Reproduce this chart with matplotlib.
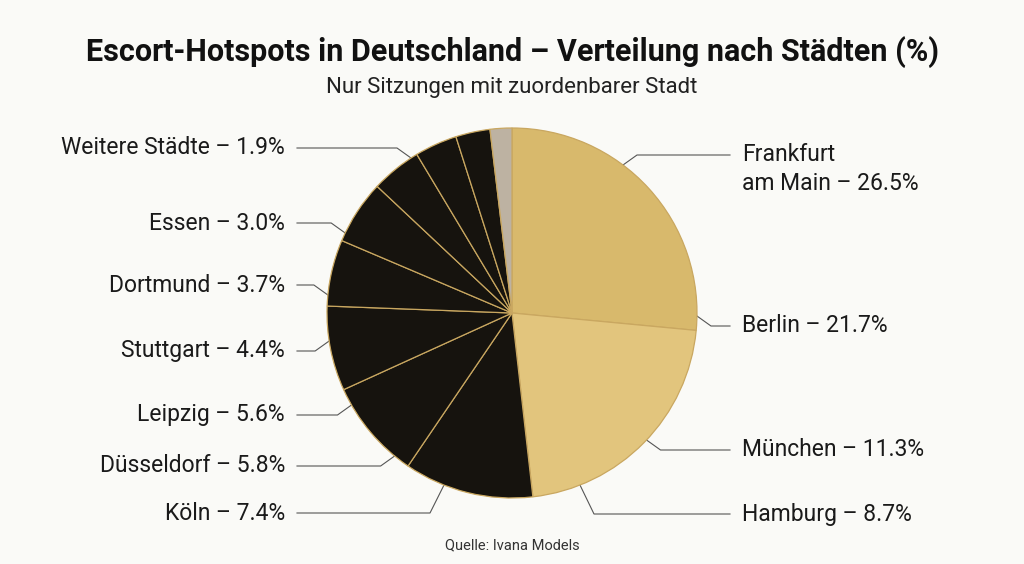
import matplotlib
matplotlib.use('Agg')
import numpy as np
import matplotlib.pyplot as plt

plt.rcParams['font.family'] = ['Roboto', 'DejaVu Sans']

# data
cities = ['Frankfurt\nam Main', 'Berlin', 'München', 'Hamburg', 'Köln', 'Düsseldorf',
          'Leipzig', 'Stuttgart', 'Dortmund', 'Essen', 'Weitere Städte']
shares = [26.5, 21.7, 11.3, 8.7, 7.4, 5.8, 5.6, 4.4, 3.7, 3.0, 1.9]
colors = ['#d8b96c', '#e2c57d'] + ['#16130e'] * 8 + ['#bdb2a2']

# label placement (pixel coords of the 1024x564 canvas, y from top)
label_pos = {
    'Frankfurt\nam Main': (742, 169, 'left'),
    'Berlin': (742, 326, 'left'),
    'München': (742, 450, 'left'),
    'Hamburg': (742, 514, 'left'),
    'Köln': (285, 513, 'right'),
    'Düsseldorf': (285, 466, 'right'),
    'Leipzig': (285, 415, 'right'),
    'Stuttgart': (285, 351, 'right'),
    'Dortmund': (285, 285, 'right'),
    'Essen': (285, 223, 'right'),
    'Weitere Städte': (285, 148, 'right'),
}
# leader line y (differs from label centre only for the two-line label)
line_y = {'Frankfurt\nam Main': 155}

W, H = 1024, 564
fig = plt.figure(figsize=(10.24, 5.64), dpi=100)
fig.patch.set_facecolor('#fafaf7')
ax = fig.add_axes([0, 0, 1, 1])

cx, cy, r = 512, H - 313, 185
wedges, _ = ax.pie(shares, colors=colors, startangle=90, counterclock=False,
                   center=(cx, cy), radius=r, frame=True,
                   wedgeprops=dict(edgecolor='#c9a760', linewidth=0.9))
ax.set_xlim(0, W)
ax.set_ylim(0, H)
ax.axis('off')

for name, val in zip(cities, shares):
    lx, ly, ha = label_pos[name]
    ly_line = H - line_y.get(name, ly)
    ly = H - ly
    # point on the rim a little closer to the centre height than the label
    yt = ly_line + np.sign(cy - ly_line) * 10
    yt = np.clip(yt, cy - 0.93 * r, cy + 0.93 * r)
    dx = np.sqrt(r ** 2 - (yt - cy) ** 2)
    sgn = 1 if ha == 'left' else -1
    xt = cx + sgn * dx
    ax.plot([xt, xt + sgn * 14, lx - sgn * 12], [yt, ly_line, ly_line],
            color='#555555', lw=0.8, zorder=0)
    ax.text(lx, ly, f'{name} – {val:.1f}%', ha=ha, va='center',
            fontsize=16.5, color='#1a1a1a', linespacing=1.35)

fig.text(0.5, 1 - 52 / H, 'Escort-Hotspots in Deutschland – Verteilung nach Städten (%)',
         ha='center', va='center', fontsize=22, fontweight='bold', color='#111111')
fig.text(0.5, 1 - 88 / H, 'Nur Sitzungen mit zuordenbarer Stadt',
         ha='center', va='center', fontsize=16, color='#222222')
fig.text(0.5, 1 - 545 / H, 'Quelle: Ivana Models', ha='center', va='center',
         fontsize=10.5, color='#333333')

fig.savefig('out.png', dpi=100, facecolor=fig.get_facecolor())
